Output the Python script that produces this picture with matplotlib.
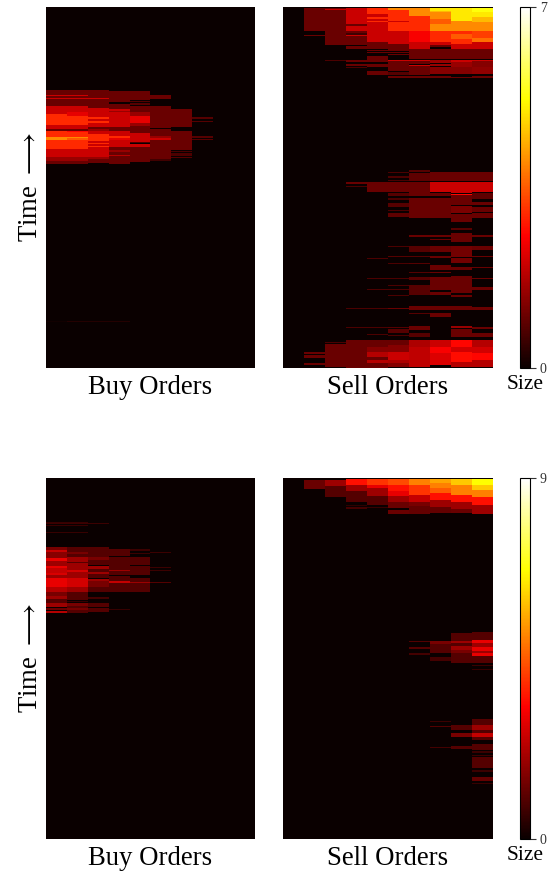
import numpy as np
import matplotlib
matplotlib.use("Agg")
import matplotlib.pyplot as plt

plt.rcParams['font.family'] = ['Liberation Serif', 'DejaVu Sans']

n_rows = 361
n_levels = 10

# order book sizes
# every price level is a list of (first time row, end time row, size)
buy_top = [
    [(84,89,1),(89,90,2),(90,92,1),(92,93,2),(93,100,1),(100,108,2),(108,119,3),(119,123,2),(123,125,1),(125,131,3),(131,134,4),(134,143,3),(143,151,2),(151,155,1.5),(155,158,1),(314,315,0.1)],
    [(84,89,1),(89,90,2),(90,92,1),(92,93,2),(93,100,1),(100,106,2),(106,110,2.3),(110,119,3),(119,123,2),(123,125,1),(125,126,2.6),(126,131,3),(131,132,4),(132,134,3.5),(134,143,3),(143,151,2),(151,155,1.5),(155,158,1),(314,315,0.3)],
    [(84,92,1),(92,93,2),(93,102,1),(102,111,2),(111,113,3),(113,115,2),(115,117,3),(117,121,2),(121,123,1),(123,125,1.5),(125,128,2),(128,135,3),(135,137,2),(137,138,3),(138,140,2),(140,141,3),(141,151,2),(151,153,1.5),(153,157,1),(314,315,0.3)],
    [(85,96,1),(98,103,1),(103,105,2),(105,106,1.5),(106,121,2),(121,125,1),(125,130,2),(130,132,3),(132,134,2.3),(134,141,2),(141,144,1),(144,146,1.5),(146,149,1),(149,150,1.8),(150,158,1),(314,315,0.3)],
    [(85,94,1),(95,96,0.8),(97,99,0.8),(100,106,1),(106,110,1.5),(110,117,2.3),(117,120,1.5),(120,127,1),(127,136,2),(136,137,0.7),(138,141,2),(141,156,1)],
    [(89,93,1),(100,122,1),(123,130,1),(130,132,1.5),(132,134,2),(134,153,1),(153,155,0.6)],
    [(103,121,1),(125,144,1),(145,146,0.7),(147,150,0.7),(151,152,0.8)],
    [(111,113,0.8),(115,116,0.8),(130,132,0.8),(133,134,0.8)],
    [],
    [],
]

sell_top = [
    [],
    [(0,1,0.6),(2,25,1),(29,30,1),(345,347,1),(348,351,1),(356,358,1)],
    [(0,1,0.6),(2,3,1),(3,4,2),(4,39,1),(54,55,0.7),(335,336,0.7),(337,360,1)],
    [(0,1,0.6),(2,18,2),(18,20,1),(20,25,2),(25,27,1),(27,29,0.6),(29,30,2),(30,39,1),(40,43,1),(54,56,1),(58,60,1),(61,62,0.7),(176,178,1),(180,181,0.7),(301,302,0.7),(320,321,0.7),(333,361,1)],
    [(0,1,0.8),(2,8,3),(8,11,2),(11,13,3),(13,15,2),(15,16,3),(16,36,2),(36,43,1),(44,45,1),(46,47,1),(50,56,1),(58,61,1),(65,69,1),(176,185,1),(251,252,0.7),(271,272,0.7),(282,283,0.7),(301,302,0.7),(320,321,0.7),(327,328,0.7),(333,340,1),(340,345,1.3),(345,350,1.8),(350,353,1),(353,356,1.8),(356,361,1)],
    [(0,1,0.8),(2,4,4),(4,15,3),(15,16,2),(16,25,3),(25,38,2),(38,45,1),(46,47,1),(48,49,1),(54,55,2),(55,65,1),(66,69,0.8),(70,72,1),(166,167,0.7),(170,172,0.7),(174,175,0.7),(176,185,1),(186,189,0.8),(191,193,0.7),(196,200,0.8),(203,204,0.7),(206,210,0.9),(239,240,0.7),(249,250,0.8),(256,257,0.7),(271,272,0.7),(278,279,0.7),(282,283,0.7),(288,289,0.7),(301,302,1),(320,321,0.8),(322,326,0.8),(328,329,0.7),(333,338,1),(338,345,1.3),(345,353,2),(353,356,1.7),(356,360,1.3)],
    [(0,1,0.8),(2,10,4),(10,25,3),(25,36,2.5),(36,43,2),(43,53,1),(54,55,2),(55,58,1),(59,60,2),(60,66,1),(66,69,1),(70,72,1),(164,166,0.8),(167,175,0.9),(176,189,1),(191,211,1),(228,230,1),(239,245,0.8),(249,250,0.8),(256,257,0.8),(265,266,0.8),(270,273,0.8),(278,288,0.8),(299,303,1),(306,307,0.8),(319,323,1),(326,330,0.8),(333,340,1.7),(340,346,1.9),(346,360,1.9)],
    [(0,1,0.8),(2,5,5),(5,6,4.5),(6,13,4),(13,18,3.5),(18,25,4),(25,36,3),(36,39,2),(39,41,1),(43,53,1),(54,57,1.5),(58,60,1.5),(61,68,1.3),(70,72,1),(166,175,1),(176,185,2),(186,189,1),(191,211,1),(228,230,1),(232,233,1),(239,245,1),(249,251,1),(258,263,1),(265,266,1),(270,283,1),(285,288,1),(299,303,1),(306,310,1),(333,340,2),(340,346,2.5),(346,358,2.2)],
    [(0,1,0.8),(2,15,5),(15,16,4),(16,25,4),(25,28,3),(28,33,3.5),(33,38,3),(38,43,2),(43,53,1),(54,56,2),(56,61,1.5),(61,68,1.3),(71,72,1),(166,175,1),(176,186,2),(187,188,2.6),(188,198,1),(199,206,1.2),(207,215,1),(221,223,0.8),(226,235,1),(239,250,1.1),(251,256,1.1),(260,263,1),(269,286,1),(288,290,1),(299,303,1),(319,321,1.5),(322,330,1),(333,340,2.6),(340,345,2.1),(345,355,2.7),(355,360,1.8)],
    [(0,1,0.8),(2,6,5.3),(6,11,5),(11,16,4.5),(16,25,4),(25,32,3.2),(32,36,3.7),(36,43,2),(43,53,1),(54,55,2),(55,61,1.3),(61,68,1.4),(70,72,1),(166,175,1),(176,185,2),(186,192,0.9),(195,198,1),(200,205,1),(206,211,1),(228,230,1),(239,243,1),(249,250,1),(260,261,1),(271,272,1),(280,283,1),(300,303,1),(320,322,1),(326,330,1),(333,340,1.8),(340,346,2.1),(346,353,2.6),(353,360,1.8)],
]

buy_bottom = [
    [(44,45,0.6),(45,46,0.7),(47,48,0.6),(54,55,0.6),(69,72,1.5),(72,74,2.5),(74,80,1.7),(80,83,3),(83,88,2),(88,90,3),(90,95,2.5),(95,97,2.8),(97,100,2),(100,109,3),(109,114,2.3),(114,118,1.5),(118,121,2),(121,125,1),(125,129,2),(130,132,1.3),(133,135,2.3)],
    [(44,45,0.6),(45,46,0.7),(47,48,0.6),(54,55,0.6),(69,74,1),(74,76,1.5),(76,79,1),(79,84,2),(84,85,1),(85,92,2),(92,94,2.7),(94,100,2),(100,109,2.7),(109,114,2),(114,119,1),(119,122,1),(123,124,0.6),(125,128,1.5),(128,130,1),(130,132,1.5),(132,135,1)],
    [(45,46,0.7),(69,79,1),(79,82,1.5),(82,87,1),(88,91,2),(91,94,1),(94,96,2),(96,100,1),(101,103,2),(103,109,1.5),(109,114,1),(119,121,0.8),(125,129,1),(130,134,1)],
    [(71,78,1),(79,92,1),(92,93,2),(93,97,1),(98,103,1),(103,105,2.5),(105,114,1),(131,132,0.6)],
    [(71,73,0.7),(75,76,0.7),(79,87,1),(88,97,1),(100,104,1),(104,105,2),(105,114,1)],
    [(74,75,0.7),(89,90,0.7),(92,93,0.7),(104,105,1)],
    [],
    [],
    [],
    [],
]

sell_bottom = [
    [],
    [(2,11,1.3)],
    [(2,8,2),(8,19,1)],
    [(1,7,3.5),(7,13,2),(13,24,1),(27,28,0.5),(29,31,0.8)],
    [(1,7,4),(7,10,3),(10,18,2),(18,27,1),(29,30,0.6)],
    [(1,7,4.3),(7,13,3.5),(13,18,3),(18,24,2),(24,30,1.3),(32,36,1.3)],
    [(1,7,5),(7,17,4),(17,24,2.5),(24,28,1.5),(28,36,1.2),(163,164,1),(169,171,1),(175,177,0.8)],
    [(1,5,5.5),(5,10,5),(10,15,4.5),(15,22,3.5),(22,29,2),(29,35,1.2),(163,166,1.5),(166,175,1),(179,181,0.8),(181,183,0.8),(243,244,0.7),(248,249,1),(269,270,0.8)],
    [(1,7,6),(7,17,5),(17,24,3.5),(24,31,2),(31,35,1.3),(155,163,1),(163,165,2),(165,168,1),(168,172,2),(172,175,1.5),(175,185,1),(247,252,1),(255,259,1.5),(268,271,1)],
    [(1,7,6.7),(7,12,6),(12,19,5),(19,27,3.5),(27,31,2),(31,36,2),(154,162,1),(162,165,3),(165,169,2),(169,173,3),(173,175,2),(175,178,3),(178,185,1),(187,188,0.7),(191,192,0.6),(241,247,1),(247,252,2),(252,255,1),(255,259,2.5),(259,262,1),(266,272,1),(273,275,0.7),(277,278,0.7),(279,290,1),(292,294,0.7),(299,303,1.2),(305,306,0.6)],
]

top_max = 7
bottom_max = 9


def to_matrix(levels):
    m = np.zeros((n_rows, n_levels))
    for j, runs in enumerate(levels):
        for first, end, size in runs:
            m[first:end, j] = size
    return m


def box(left, top, right, bottom):
    # pixels of the 552x872 picture -> figure fractions
    return [left / 552, 1 - bottom / 872, (right - left) / 552, (bottom - top) / 872]


fig = plt.figure(figsize=(5.52, 8.72), dpi=100)

rows = [(7, 368, buy_top, sell_top, top_max), (478, 839, buy_bottom, sell_bottom, bottom_max)]
for top, bottom, buy, sell, vmax in rows:
    ax1 = fig.add_axes(box(46, top, 255, bottom))
    ax2 = fig.add_axes(box(283, top, 492, bottom))
    cax = fig.add_axes(box(520, top, 530, bottom))

    ax1.imshow(to_matrix(buy), cmap='hot', vmin=0, vmax=vmax, aspect='auto', interpolation='nearest')
    im = ax2.imshow(to_matrix(sell), cmap='hot', vmin=0, vmax=vmax, aspect='auto', interpolation='nearest')

    for ax in (ax1, ax2):
        ax.set_xticks([])
        ax.set_yticks([])
        for s in ax.spines.values():
            s.set_visible(False)
    ax1.set_xlabel('Buy Orders', fontsize=19.3, labelpad=5)
    ax2.set_xlabel('Sell Orders', fontsize=19.3, labelpad=5)
    ax1.set_ylabel('Time $\\longrightarrow$', fontsize=19.3, labelpad=2, math_fontfamily='stix')

    cb = fig.colorbar(im, cax=cax, ticks=[0, vmax])
    cb.ax.tick_params(labelsize=10, length=4, width=0.8, pad=3, colors='#333333')
    cb.outline.set_linewidth(0.8)
    cax.set_xlabel('Size', fontsize=15.5, labelpad=5)

fig.savefig('out.png', dpi=100)
